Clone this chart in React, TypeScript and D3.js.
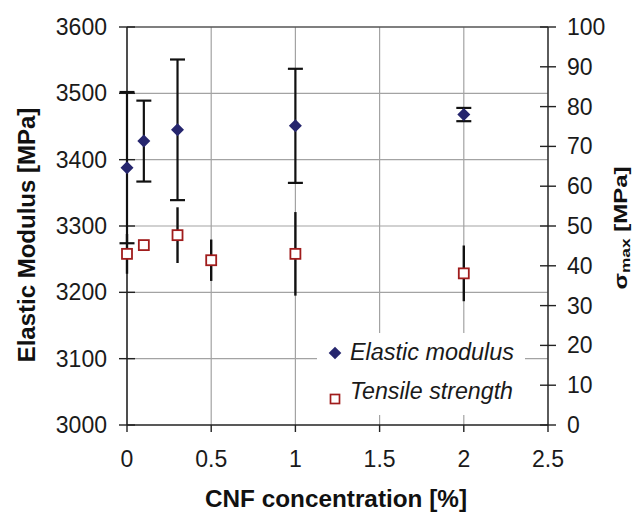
import React from "react";
import * as d3 from "d3";

const concentrations = [0, 0.1, 0.3, 1, 2];
const modulus = [3388, 3428, 3445, 3451, 3468];
const modulusErr = [114, 61, 106, 86, 10];

const tsConc = [0, 0.1, 0.3, 0.5, 1, 2];
const tensile = [43.0, 45.2, 47.7, 41.4, 43.0, 38.1];
const tensileErr = [5, 0, 7, 5.2, 10.5, 7];

const xTicks = [0, 0.5, 1, 1.5, 2, 2.5];
const xTickLabels = ["0", "0.5", "1", "1.5", "2", "2.5"];
const leftTicks = [3000, 3100, 3200, 3300, 3400, 3500, 3600];
const rightTicks = [0, 10, 20, 30, 40, 50, 60, 70, 80, 90, 100];
const legendLabels = ["Elastic modulus", "Tensile strength"];

const L = 127, R = 548, T = 27, B = 425;
const FONT = "'Liberation Sans', Arial, sans-serif";
const TICK_FS = 23;

function diamondPath(r: number) {
  const p = d3.path();
  p.moveTo(0, -r);
  p.lineTo(r, 0);
  p.lineTo(0, r);
  p.lineTo(-r, 0);
  p.closePath();
  return p.toString();
}

export default function App() {
  const x = d3.scaleLinear().domain([0, 2.5]).range([L, R]);
  const yL = d3.scaleLinear().domain([3000, 3600]).range([B, T]);
  const yR = d3.scaleLinear().domain([0, 100]).range([B, T]);
  const diamond = diamondPath(6.5);

  return (
    <svg width={635} height={513} style={{ position: "absolute", left: 0, top: 0, background: "#fff" }}>
      <rect x={0} y={0} width={635} height={513} fill="#fff" />
      {/* grid */}
      {leftTicks.slice(1, -1).map((t) => (
        <line key={"h" + t} x1={L} x2={R} y1={yL(t)} y2={yL(t)} stroke="#a3a3a3" strokeWidth={1.2} />
      ))}
      {xTicks.slice(1, -1).map((t) => (
        <line key={"v" + t} x1={x(t)} x2={x(t)} y1={T} y2={B} stroke="#a3a3a3" strokeWidth={1.2} />
      ))}
      <line x1={L} x2={R} y1={T} y2={T} stroke="#555" strokeWidth={1.4} />
      {/* legend box */}
      <rect x={317} y={333} width={208} height={82} fill="#fff" />
      {/* axes */}
      <line x1={L} x2={L} y1={T} y2={B} stroke="#222" strokeWidth={1.6} />
      <line x1={R} x2={R} y1={T} y2={B} stroke="#333" strokeWidth={1.6} />
      <line x1={L} x2={R} y1={B} y2={B} stroke="#222" strokeWidth={1.6} />
      {leftTicks.map((t) => (
        <g key={"lt" + t}>
          <line x1={L - 8} x2={L + 8} y1={yL(t)} y2={yL(t)} stroke="#222" strokeWidth={1.4} />
          <text x={107} y={yL(t) + 8} textAnchor="end" fontFamily={FONT} fontSize={TICK_FS} fill="#1a1a1a">{t}</text>
        </g>
      ))}
      {rightTicks.map((t) => (
        <g key={"rt" + t}>
          <line x1={R - 8} x2={R + 8} y1={yR(t)} y2={yR(t)} stroke="#222" strokeWidth={1.4} />
          <text x={567} y={yR(t) + 8} textAnchor="start" fontFamily={FONT} fontSize={TICK_FS} fill="#1a1a1a">{t}</text>
        </g>
      ))}
      {xTicks.map((t, i) => (
        <g key={"xt" + t}>
          <line x1={x(t)} x2={x(t)} y1={B} y2={B + 7} stroke="#222" strokeWidth={1.4} />
          <text x={x(t)} y={467} textAnchor="middle" fontFamily={FONT} fontSize={TICK_FS} fill="#1a1a1a">{xTickLabels[i]}</text>
        </g>
      ))}
      {/* tensile error bars */}
      {tsConc.map((c, i) => (
        tensileErr[i] > 0 ? (
          <line key={"te" + i} x1={x(c)} x2={x(c)} y1={yR(tensile[i] + tensileErr[i])} y2={yR(tensile[i] - tensileErr[i])} stroke="#111" strokeWidth={2.4} />
        ) : null
      ))}
      {/* modulus error bars */}
      {concentrations.map((c, i) => (
        <g key={"me" + i} stroke="#111" strokeWidth={2.2}>
          <line x1={x(c)} x2={x(c)} y1={yL(modulus[i] + modulusErr[i])} y2={yL(modulus[i] - modulusErr[i])} />
          <line x1={x(c) - 7.5} x2={x(c) + 7.5} y1={yL(modulus[i] + modulusErr[i])} y2={yL(modulus[i] + modulusErr[i])} />
          <line x1={x(c) - 7.5} x2={x(c) + 7.5} y1={yL(modulus[i] - modulusErr[i])} y2={yL(modulus[i] - modulusErr[i])} />
        </g>
      ))}
      {/* tensile squares */}
      {tsConc.map((c, i) => (
        <rect key={"ts" + i} x={x(c) - 5} y={yR(tensile[i]) - 5} width={10} height={10} fill="#fff" stroke="#a01c1c" strokeWidth={1.8} />
      ))}
      {/* modulus diamonds */}
      {concentrations.map((c, i) => (
        <path key={"md" + i} d={diamond} transform={`translate(${x(c)},${yL(modulus[i])})`} fill="#26266e" />
      ))}
      {/* legend */}
      <path d={diamondPath(6.3)} transform="translate(335,353)" fill="#26266e" />
      <text x={350} y={360} fontFamily={FONT} fontStyle="italic" fontSize={23} fill="#1a1a1a" textLength={164} lengthAdjust="spacingAndGlyphs">{legendLabels[0]}</text>
      <rect x={330.5} y={394.5} width={9} height={9} fill="#fff" stroke="#a01c1c" strokeWidth={1.7} />
      <text x={350} y={399} fontFamily={FONT} fontStyle="italic" fontSize={23} fill="#1a1a1a" textLength={163} lengthAdjust="spacingAndGlyphs">{legendLabels[1]}</text>
      {/* axis titles */}
      <text transform="translate(35,235) rotate(-90)" textAnchor="middle" fontFamily={FONT} fontWeight="bold" fontSize={24} fill="#111">Elastic Modulus [MPa]</text>
      <text x={336} y={507} textAnchor="middle" fontFamily={FONT} fontWeight="bold" fontSize={24} fill="#111" textLength={262} lengthAdjust="spacingAndGlyphs">CNF concentration [%]</text>
      <text transform="translate(627,228) rotate(-90)" textAnchor="middle" fontFamily={FONT} fontWeight="bold" fontSize={18} fill="#111" textLength={123} lengthAdjust="spacingAndGlyphs">
        σ<tspan fontSize={13} dy={3}>max</tspan><tspan dy={-3}> [MPa]</tspan>
      </text>
    </svg>
  );
}
